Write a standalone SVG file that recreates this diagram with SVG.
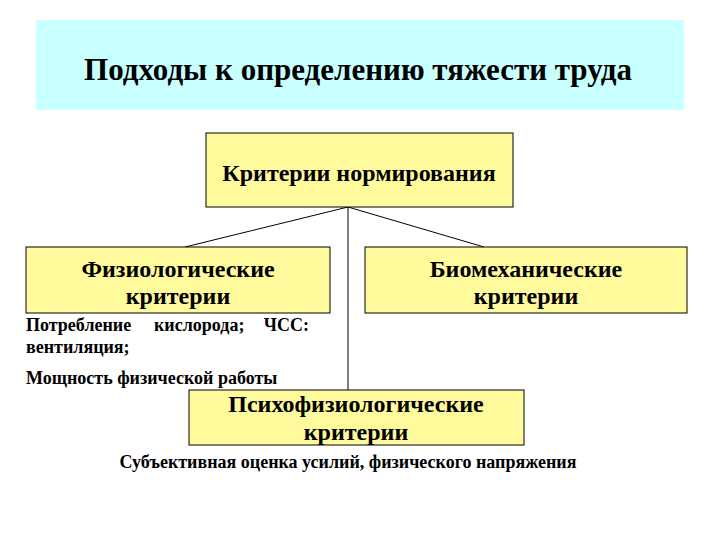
<svg xmlns="http://www.w3.org/2000/svg" width="720" height="540" viewBox="0 0 720 540">
<style>
.box{fill:#FFFA9C;stroke:#000;stroke-width:1}
.t{font-family:"Liberation Serif","DejaVu Serif",serif;font-weight:bold;fill:#000}
.big{font-size:24px;text-anchor:middle}
.small{font-size:18px}
.conn{stroke:#000;stroke-width:1;fill:none}
</style>
<rect width="720" height="540" fill="#fff"/>
<g id="title">
<rect x="36" y="20" width="648" height="90" fill="#C8FFFF"/>
<text class="t" x="358" y="80" font-size="31" text-anchor="middle">Подходы к определению тяжести труда</text>
</g>
<g id="connectors">
<line class="conn" x1="348" y1="207" x2="185" y2="247"/>
<line class="conn" x1="348" y1="207" x2="484" y2="247"/>
<line class="conn" x1="348" y1="207" x2="348" y2="390"/>
</g>
<g id="root">
<rect class="box" x="206" y="133" width="307" height="74"/>
<text class="t" x="359" y="181" font-size="24" text-anchor="middle">Критерии нормирования</text>
</g>
<g id="physio">
<rect class="box" x="26" y="247" width="304" height="66"/>
<text class="t big" x="178" y="277">Физиологические</text>
<text class="t big" x="178" y="304">критерии</text>
</g>
<g id="physio-notes">
<text class="t small" x="26" y="331">Потребление</text>
<text class="t small" x="154" y="331">кислорода;</text>
<text class="t small" x="309" y="331" text-anchor="end">ЧСС:</text>
<text class="t small" x="26" y="353">вентиляция;</text>
<text class="t small" x="26" y="384">Мощность физической работы</text>
</g>
<g id="biomech">
<rect class="box" x="365" y="247" width="322" height="66"/>
<text class="t big" x="526" y="277">Биомеханические</text>
<text class="t big" x="526" y="304">критерии</text>
</g>
<g id="psycho">
<rect class="box" x="189" y="390" width="335" height="55"/>
<text class="t big" x="356" y="412">Психофизиологические</text>
<text class="t big" x="356" y="440">критерии</text>
</g>
<g id="psycho-note">
<text class="t small" x="348" y="468" text-anchor="middle">Субъективная оценка усилий, физического напряжения</text>
</g>
</svg>
